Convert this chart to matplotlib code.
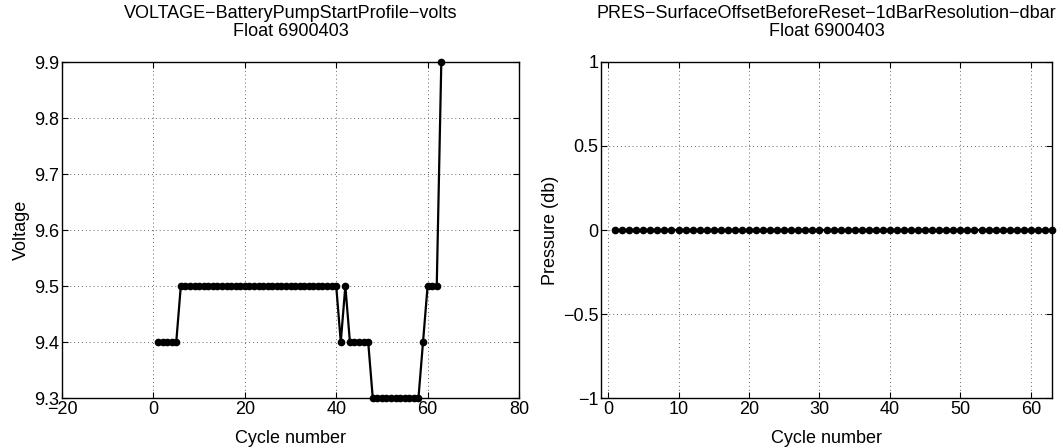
import matplotlib
matplotlib.use('Agg')
import matplotlib.pyplot as plt

plt.rcParams['font.family'] = ['Liberation Sans', 'DejaVu Sans']
plt.rcParams['font.size'] = 13
plt.rcParams['axes.unicode_minus'] = True

# cycle numbers and measured values
cycles = list(range(1, 64))
voltage = [9.4, 9.4, 9.4, 9.4, 9.4,
           9.5, 9.5, 9.5, 9.5, 9.5, 9.5, 9.5, 9.5, 9.5, 9.5,
           9.5, 9.5, 9.5, 9.5, 9.5, 9.5, 9.5, 9.5, 9.5, 9.5,
           9.5, 9.5, 9.5, 9.5, 9.5, 9.5, 9.5, 9.5, 9.5, 9.5,
           9.5, 9.5, 9.5, 9.5, 9.5,
           9.4, 9.5,
           9.4, 9.4, 9.4, 9.4, 9.4,
           9.3, 9.3, 9.3, 9.3, 9.3, 9.3, 9.3, 9.3, 9.3, 9.3, 9.3,
           9.4,
           9.5, 9.5, 9.5,
           9.9]
pressure = [0, 0, 0, 0, 0, 0, 0, 0, 0, 0, 0, 0, 0, 0, 0, 0, 0, 0, 0, 0, 0,
            0, 0, 0, 0, 0, 0, 0, 0, 0, 0, 0, 0, 0, 0, 0, 0, 0, 0, 0, 0, 0,
            0, 0, 0, 0, 0, 0, 0, 0, 0, 0, 0, 0, 0, 0, 0, 0, 0, 0, 0, 0, 0]

W, H = 1063, 448
fig = plt.figure(figsize=(W / 100, H / 100), dpi=100)
ax1 = fig.add_axes([62 / W, 50 / H, 457 / W, 336 / H])
ax2 = fig.add_axes([601 / W, 50 / H, 451 / W, 336 / H])


def style(ax):
    ax.grid(True, color='0.4', linestyle=(0, (1, 3)), linewidth=0.7)
    ax.tick_params(direction='in', length=4, width=0.8, top=True, right=True,
                   labelsize=13, pad=2)
    for s in ax.spines.values():
        s.set_linewidth(1.0)
        s.set_color('black')
    ax.set_axisbelow(True)


ax1.plot(cycles, voltage, color='black', linewidth=1.6, marker='o',
         markersize=4.5, clip_on=False)
ax1.set_xlim(-20, 80)
ax1.set_ylim(9.3, 9.9)
ax1.set_xticks([-20, 0, 20, 40, 60, 80])
ax1.set_yticks([9.3, 9.4, 9.5, 9.6, 9.7, 9.8, 9.9])
ax1.set_yticklabels(['9.3', '9.4', '9.5', '9.6', '9.7', '9.8', '9.9'])
ax1.set_xticklabels(['\u221220', '0', '20', '40', '60', '80'])
ax1.set_xlabel('Cycle number', labelpad=-6)
ax1.set_ylabel('Voltage', labelpad=3)
ax1.set_title('VOLTAGE\u2212BatteryPumpStartProfile\u2212volts\nFloat 6900403',
              fontsize=13, pad=19, linespacing=1.05)
style(ax1)

ax2.plot(cycles, pressure, color='black', linewidth=1.6, marker='o',
         markersize=4.5, clip_on=False)
ax2.set_xlim(-1, 63)
ax2.set_ylim(-1, 1)
ax2.set_xticks([0, 10, 20, 30, 40, 50, 60])
ax2.set_yticks([-1, -0.5, 0, 0.5, 1])
ax2.set_yticklabels(['\u22121', '\u22120.5', '0', '0.5', '1'])
ax2.set_xlabel('Cycle number', labelpad=-6)
ax2.set_ylabel('Pressure (db)', labelpad=3)
ax2.set_title('PRES\u2212SurfaceOffsetBeforeReset\u22121dBarResolution\u2212dbar\nFloat 6900403',
              fontsize=13, pad=19, linespacing=1.05)
style(ax2)

# MATLAB-style tight spacing under the tick labels
for ax in (ax1, ax2):
    ax.xaxis.set_label_coords(0.5, -0.095)

fig.savefig('out.png', dpi=100)
